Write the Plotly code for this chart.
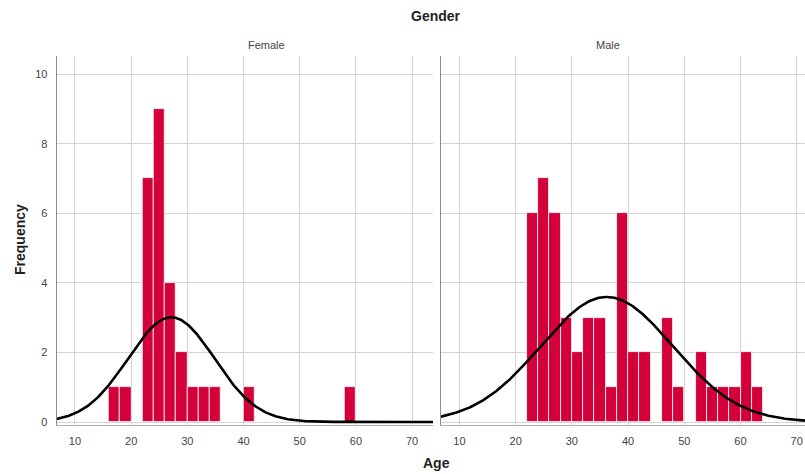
import numpy as np
import plotly.graph_objects as go

# Histogram bins (left edges, width 2) and frequencies
bin_width = 2
female_bin_starts = [16, 18, 20, 22, 24, 26, 28, 30, 32, 34, 36, 38, 40, 42, 44, 46, 48, 50, 52, 54, 56, 58]
female_counts     = [1, 1, 0, 7, 9, 4, 2, 1, 1, 1, 0, 0, 1, 0, 0, 0, 0, 0, 0, 0, 0, 1]
male_bin_starts = [22, 24, 26, 28, 30, 32, 34, 36, 38, 40, 42, 44, 46, 48, 50, 52, 54, 56, 58, 60, 62]
male_counts     = [6, 7, 6, 3, 2, 3, 3, 1, 6, 2, 2, 0, 3, 1, 0, 2, 1, 1, 1, 2, 1]

x_ticks = [10, 20, 30, 40, 50, 60, 70]
y_ticks = [0, 2, 4, 6, 8, 10]
panel_titles = ["Female", "Male"]

BAR = "#d4003a"
GRID = "#d4d4d4"
AXIS = "#8c8c8c"
FONT = "Arial, Liberation Sans, sans-serif"


def normal_curve(starts, counts, xs):
    mids = np.array(starts) + bin_width / 2
    c = np.array(counts, dtype=float)
    n = c.sum()
    mu = (mids * c).sum() / n
    sd = np.sqrt(((mids - mu) ** 2 * c).sum() / (n - 1))
    return n * bin_width * np.exp(-0.5 * ((xs - mu) / sd) ** 2) / (sd * np.sqrt(2 * np.pi))


fig = go.Figure()

panels = [
    (female_bin_starts, female_counts, "x", "y", [6.74, 73.74]),
    (male_bin_starts, male_counts, "x2", "y2", [6.71, 71.48]),
]

for starts, counts, xa, ya, rng in panels:
    mids = [s + bin_width / 2 for s in starts]
    fig.add_trace(go.Bar(
        x=mids, y=counts, width=bin_width, xaxis=xa, yaxis=ya,
        marker=dict(color=BAR, line=dict(color="white", width=0.8)),
        showlegend=False, hoverinfo="x+y",
    ))
    xs = np.linspace(rng[0], rng[1], 400)
    fig.add_trace(go.Scatter(
        x=xs, y=normal_curve(starts, counts, xs), xaxis=xa, yaxis=ya,
        mode="lines", line=dict(color="black", width=2.6),
        showlegend=False, hoverinfo="skip",
    ))

xcommon = dict(
    tickvals=x_ticks, showgrid=True, gridcolor=GRID, gridwidth=1,
    zeroline=False, showline=True, linecolor="#b0b0b0", linewidth=1,
    ticks="", ticklabelstandoff=6, tickfont=dict(family=FONT, size=11, color="#444"),
)
ycommon = dict(
    range=[-0.086, 10.52], tickvals=y_ticks, showgrid=True, gridcolor=GRID,
    gridwidth=1, zeroline=False, showline=True, linecolor=AXIS, linewidth=1,
    ticks="", ticklabelstandoff=6, tickfont=dict(family=FONT, size=11, color="#444"),
)

fig.update_layout(
    width=805, height=474,
    margin=dict(l=0, r=0, t=56, b=49),
    paper_bgcolor="white", plot_bgcolor="white",
    bargap=0,
    xaxis=dict(domain=[0.0704, 0.538], range=panels[0][4], anchor="y", **xcommon),
    xaxis2=dict(domain=[0.5478, 1.0], range=panels[1][4], anchor="y2", **xcommon),
    yaxis=dict(anchor="x", **ycommon),
    yaxis2=dict(anchor="x2", showticklabels=False, **ycommon),
    font=dict(family=FONT, color="#222"),
)

# Position annotations in pixel terms relative to the plotting area
ph = 474 - 56 - 49
def ypix(p):
    # convert a pixel row (from top of page) to paper coordinate
    return (474 - 49 - p) / ph

fig.update_layout(annotations=[
    dict(text="<b>Gender</b>", x=436 / 805, y=ypix(16), xref="paper", yref="paper",
         yanchor="middle", showarrow=False, font=dict(size=14, color="#222")),
    dict(text=panel_titles[0], x=246 / 805, y=ypix(45), xref="paper", yref="paper",
         yanchor="middle", showarrow=False, font=dict(size=11, color="#444")),
    dict(text=panel_titles[1], x=622 / 805, y=ypix(45), xref="paper", yref="paper",
         yanchor="middle", showarrow=False, font=dict(size=11, color="#444")),
    dict(text="<b>Age</b>", x=436 / 805, y=ypix(463), xref="paper", yref="paper",
         yanchor="middle", showarrow=False, font=dict(size=14, color="#222")),
    dict(text="<b>Frequency</b>", x=20 / 805, y=ypix(240), xref="paper", yref="paper",
         xanchor="center", yanchor="middle", textangle=-90, showarrow=False,
         font=dict(size=14, color="#222")),
])

fig.write_html("out.html")
